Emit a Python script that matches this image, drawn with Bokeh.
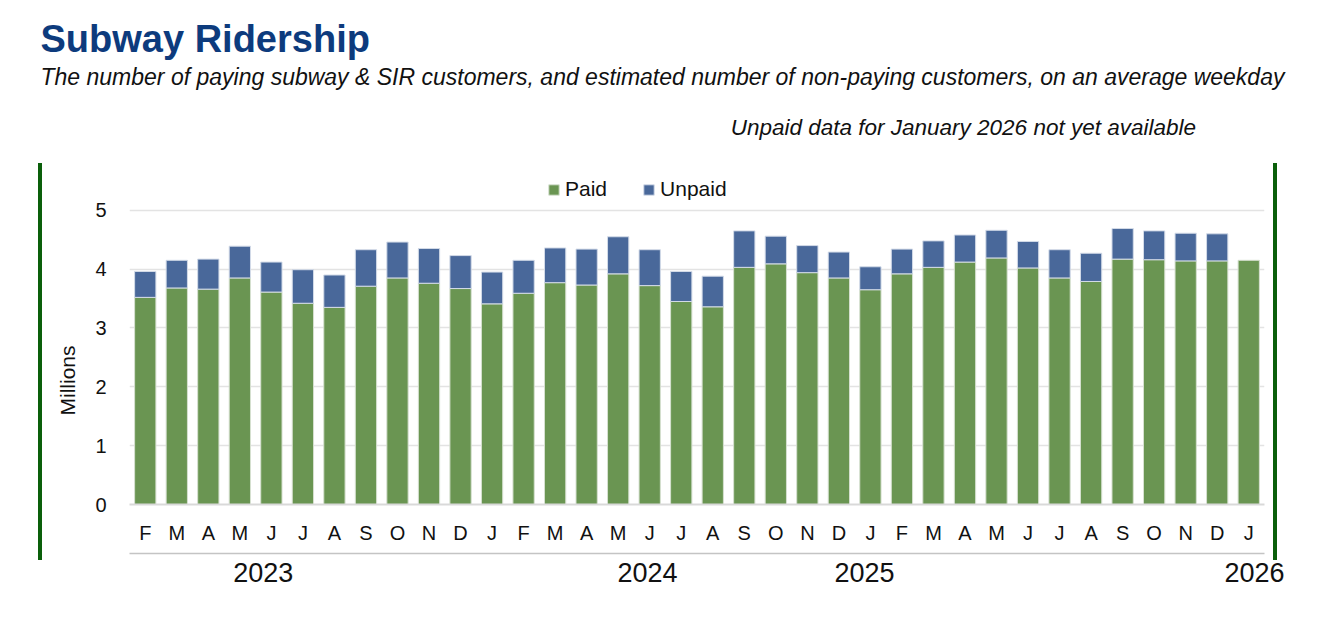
import numpy as np
from bokeh.plotting import figure
from bokeh.layouts import column, row
from bokeh.models import (FixedTicker, LinearAxis, Range1d, Legend, LegendItem,
                          Grid, Title, Div, Spacer)
from bokeh.core.properties import value
from bokeh.embed import file_html
from bokeh.resources import INLINE

# ---------------- data ----------------
months = ["F", "M", "A", "M", "J", "J", "A", "S", "O", "N", "D",
          "J", "F", "M", "A", "M", "J", "J", "A", "S", "O", "N", "D",
          "J", "F", "M", "A", "M", "J", "J", "A", "S", "O", "N", "D",
          "J"]
paid = [3.52, 3.68, 3.66, 3.85, 3.61, 3.42, 3.35, 3.71, 3.85, 3.76, 3.67,
        3.41, 3.59, 3.77, 3.73, 3.92, 3.72, 3.45, 3.36, 4.03, 4.09, 3.94, 3.85,
        3.65, 3.92, 4.03, 4.12, 4.19, 4.02, 3.85, 3.79, 4.17, 4.16, 4.14, 4.14,
        4.15]
unpaid = [0.44, 0.47, 0.51, 0.54, 0.51, 0.57, 0.55, 0.62, 0.61, 0.59, 0.56,
          0.54, 0.56, 0.59, 0.61, 0.63, 0.61, 0.51, 0.52, 0.62, 0.47, 0.46, 0.44,
          0.39, 0.42, 0.45, 0.46, 0.47, 0.45, 0.48, 0.48, 0.52, 0.49, 0.47, 0.46,
          np.nan]
year_labels = ["2023", "2024", "2025", "2026"]
year_label_pos = [3.74, 15.93, 22.81, 35.18]
y_ticks = [0, 1, 2, 3, 4, 5]

title_text = "Subway Ridership"
subtitle_text = ("The number of paying subway & SIR customers, and estimated number "
                 "of non-paying customers, on an average weekday")
note_text = "Unpaid data for January  2026  not yet available"

GREEN = "#6a9552"
BLUE = "#49689a"
DARK_GREEN = "#0a5f0a"
TITLE_BLUE = "#0d3b7d"
FONT = "Liberation Sans"
TXT = "#111111"


def strip_grids(fig):
    fig.center = [r for r in fig.center if not isinstance(r, Grid)]
    fig.renderers = [r for r in fig.renderers if not isinstance(r, Grid)]


# ---------------- header ----------------
hdr = figure(width=1308, height=163, x_range=Range1d(0, 1308), y_range=Range1d(163, 0),
             output_backend="svg", toolbar_location=None, title=None,
             min_border=0, x_axis_location=None, y_axis_location=None)
strip_grids(hdr)
hdr.outline_line_color = None
hdr.background_fill_color = "white"
hdr.border_fill_color = "white"
hdr.text(x=[40], y=[38], text=[title_text], text_font=value(FONT),
         text_font_style="bold", text_font_size="38px", text_color=TITLE_BLUE,
         text_baseline="alphabetic", text_align="left")
hdr.text(x=[40], y=[76], text=[subtitle_text], text_font=value(FONT),
         text_font_style="italic", text_font_size="23px", text_color=TXT,
         text_baseline="alphabetic", text_align="left")
hdr.text(x=[1208], y=[127], text=[note_text], text_font=value(FONT),
         text_font_style="italic", text_font_size="22.5px", text_color=TXT,
         text_baseline="alphabetic", text_align="right")

# ---------------- chart ----------------
x = np.arange(len(months))
paid_arr = np.array(paid, dtype=float)
unpaid_arr = np.array(unpaid, dtype=float)
total_arr = paid_arr + unpaid_arr

p = figure(width=1266, height=447, x_range=(-0.5, 35.5), y_range=(0, 5.795),
           output_backend="svg", toolbar_location=None, title=None,
           min_border_left=87, min_border_right=44, min_border_top=0,
           min_border_bottom=106, x_axis_location=None, y_axis_location=None)
strip_grids(p)
p.outline_line_color = None
p.background_fill_color = "white"
p.border_fill_color = "white"

grid = Grid(dimension=1, ticker=FixedTicker(ticks=y_ticks),
            grid_line_color="#e3e3e3", grid_line_width=1.5)
p.add_layout(grid)

r_paid = p.vbar(x=x, bottom=0, top=paid_arr, width=0.675, fill_color=GREEN,
                line_color="#d6e0d0", line_width=1)
r_unpaid = p.vbar(x=x, bottom=paid_arr, top=total_arr, width=0.675, fill_color=BLUE,
                  line_color="#d3dbe8", line_width=1)

yaxis = LinearAxis(ticker=FixedTicker(ticks=y_ticks), axis_line_color=None,
                   major_tick_line_color=None, minor_tick_line_color=None,
                   major_tick_out=0, major_label_standoff=23,
                   major_label_text_font=FONT, major_label_text_font_size="20px",
                   major_label_text_color=TXT)
p.add_layout(yaxis, "left")
p.add_layout(Title(text="Millions", align="left", offset=89, vertical_align="middle",
                   standoff=25, text_font=FONT, text_font_size="21px",
                   text_font_style="normal", text_color=TXT), "left")

month_axis = LinearAxis(ticker=FixedTicker(ticks=[int(i) for i in x]),
                        major_label_overrides={int(i): m for i, m in zip(x, months)},
                        axis_line_color="#d9d9d9", axis_line_width=2,
                        major_tick_line_color=None, minor_tick_line_color=None,
                        major_tick_out=0, major_label_standoff=17,
                        major_label_text_font=FONT, major_label_text_font_size="20px",
                        major_label_text_color=TXT,
                        axis_label=" ", axis_label_text_font_size="3px",
                        axis_label_standoff=1)
p.add_layout(month_axis, "below")

p.extra_x_ranges = {"yr": Range1d(start=-50, end=3550)}
year_ticks = [int(round(v * 100)) for v in year_label_pos]
year_axis = LinearAxis(x_range_name="yr", ticker=FixedTicker(ticks=year_ticks),
                       major_label_overrides={t: l for t, l in zip(year_ticks, year_labels)},
                       axis_line_color="#c4c4c4", axis_line_width=1.5,
                       major_tick_line_color=None, minor_tick_line_color=None,
                       major_tick_out=0, major_label_standoff=9,
                       major_label_text_font=FONT, major_label_text_font_size="27px",
                       major_label_text_color=TXT)
p.add_layout(year_axis, "below")

legend = Legend(items=[LegendItem(label="Paid", renderers=[r_paid]),
                       LegendItem(label="Unpaid", renderers=[r_unpaid])],
                orientation="horizontal", location=(418, 303),
                border_line_color=None, background_fill_alpha=0,
                padding=0, margin=0, spacing=35, glyph_width=13, glyph_height=13,
                label_standoff=5, label_text_font=FONT, label_text_font_size="21px",
                label_text_color=TXT)
p.add_layout(legend)

left_bar = Div(text="", width=4, height=397, margin=0, align="start",
               styles={"background-color": DARK_GREEN})
right_bar = Div(text="", width=4, height=397, margin=(0, 0, 0, -35), align="start",
                styles={"background-color": DARK_GREEN, "position": "relative",
                        "z-index": "10"})

chart_row = row(Spacer(width=38, height=10, margin=0), left_bar, p, right_bar,
                spacing=0)
layout = column(hdr, chart_row, spacing=0)

open("out.html", "w").write(file_html(layout, INLINE))
